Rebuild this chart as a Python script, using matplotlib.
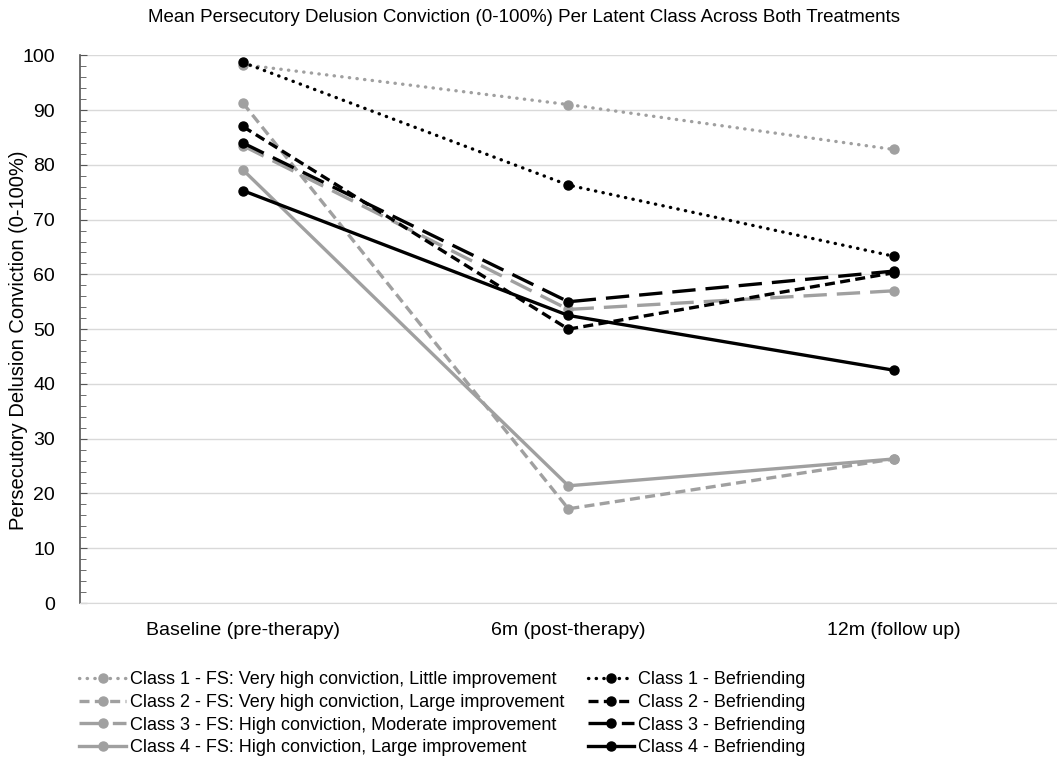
import matplotlib.pyplot as plt
from matplotlib.ticker import MultipleLocator

plt.rcParams['font.family'] = ['Liberation Sans', 'DejaVu Sans']

timepoints = ['Baseline (pre-therapy)', '6m (post-therapy)', '12m (follow up)']

fs_labels = [
    'Class 1 - FS: Very high conviction, Little improvement',
    'Class 2 - FS: Very high conviction, Large improvement',
    'Class 3 - FS: High conviction, Moderate improvement',
    'Class 4 - FS: High conviction, Large improvement',
]
bef_labels = [
    'Class 1 - Befriending',
    'Class 2 - Befriending',
    'Class 3 - Befriending',
    'Class 4 - Befriending',
]

fs_class1 = [98.3, 91.0, 82.8]
fs_class2 = [91.3, 17.2, 26.3]
fs_class3 = [83.5, 53.6, 57.0]
fs_class4 = [79.1, 21.4, 26.3]

bef_class1 = [98.7, 76.3, 63.3]
bef_class2 = [87.0, 50.0, 60.3]
bef_class3 = [84.0, 55.0, 60.6]
bef_class4 = [75.3, 52.5, 42.5]

fs_series = [fs_class1, fs_class2, fs_class3, fs_class4]
bef_series = [bef_class1, bef_class2, bef_class3, bef_class4]

# dotted, dashed, long dash, solid
styles = [(0, (0.1, 2.2)), (0, (3.0, 1.6)), (0, (7.0, 3.0)), '-']

fig = plt.figure(figsize=(10.57, 7.57), dpi=100)
ax = fig.add_axes([0.0757, 0.2034, 0.924, 0.7236])

x = list(range(len(timepoints)))
gray = '#a0a0a0'

handles = []
for color, series, labels in [(gray, fs_series, fs_labels),
                              ('black', bef_series, bef_labels)]:
    for vals, ls, lab in zip(series, styles, labels):
        h, = ax.plot(x, vals, color=color, linestyle=ls, linewidth=2.4,
                     marker='o', markersize=6.5, label=lab,
                     dash_capstyle='round' if ls == styles[0] else 'butt')
        handles.append(h)

ax.set_xlim(-0.5, 2.5)
ax.set_ylim(0, 100)
ax.set_xticks(x)
ax.set_xticklabels(timepoints, fontsize=14)
ax.yaxis.set_major_locator(MultipleLocator(10))
ax.yaxis.set_minor_locator(MultipleLocator(2))
ax.tick_params(axis='y', which='both', direction='in', colors='#555555',
               labelcolor='black', labelsize=14, pad=18)
ax.tick_params(axis='y', which='major', length=5)
ax.tick_params(axis='y', which='minor', length=4)
ax.tick_params(axis='x', length=0, pad=14)
ax.grid(axis='y', which='major', color='#d9d9d9', linewidth=1)
ax.set_axisbelow(True)
for s in ['top', 'right']:
    ax.spines[s].set_visible(False)
ax.spines['bottom'].set_color('#d9d9d9')
ax.spines['left'].set_color('#555555')
ax.spines['left'].set_linewidth(1.2)

ax.set_ylabel('Persecutory Delusion Conviction (0-100%)', fontsize=14.5)
ax.yaxis.set_label_coords(-0.053, 0.48)

fig.suptitle('Mean Persecutory Delusion Conviction (0-100%) Per Latent Class Across Both Treatments',
             fontsize=13.5, x=0.496, y=0.988, va='top')

fig.legend(handles=handles, loc='upper left', bbox_to_anchor=(0.068, 0.123),
           ncol=2, frameon=False, fontsize=13, handlelength=2.6,
           handletextpad=0.2, columnspacing=1.3, labelspacing=0.32,
           borderaxespad=0)

fig.savefig('out.png', dpi=100)
